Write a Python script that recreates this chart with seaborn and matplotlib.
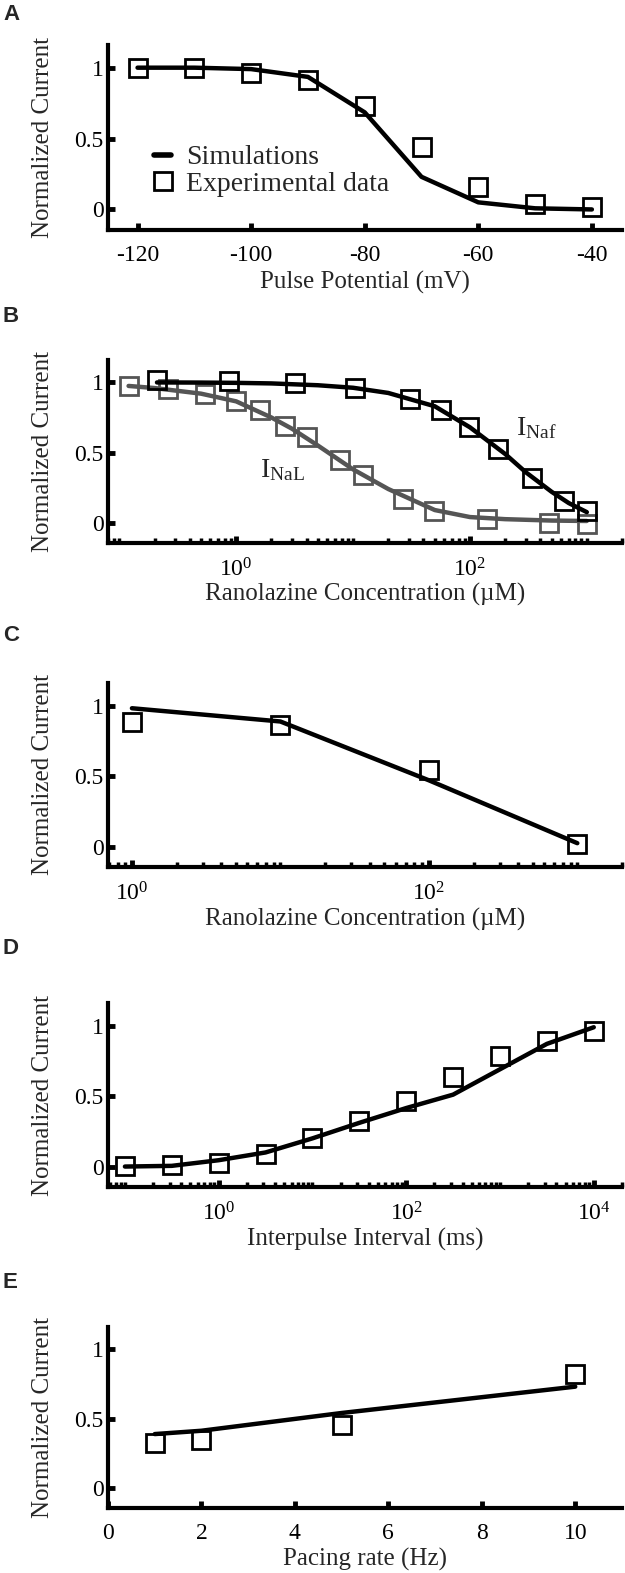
import numpy as np
import pandas as pd
import matplotlib
matplotlib.use("Agg")
import matplotlib.pyplot as plt
import seaborn as sns
from matplotlib.ticker import LogLocator, NullFormatter, FixedLocator
from matplotlib.lines import Line2D

# ---- data ----
# A: steady-state inactivation
a_volt = [-120, -110, -100, -90, -80, -70, -60, -50, -40]
a_sim = [1.0, 1.0, 0.99, 0.935, 0.685, 0.23, 0.05, 0.008, 0.0]
a_exp = [1.0, 0.998, 0.964, 0.91, 0.73, 0.44, 0.155, 0.04, 0.018]

# B: ranolazine block, INaf (black) and INaL (grey)
b_naf_conc = [0.21, 0.87, 3.2, 10.3, 31, 56, 98, 175, 340, 640, 1000]
b_naf_exp = [1.02, 1.012, 0.993, 0.957, 0.884, 0.807, 0.68, 0.523, 0.318, 0.157, 0.084]
b_naf_sim_conc = [0.21, 0.5, 1, 2, 5, 10, 20, 50, 100, 200, 300, 500, 700, 1000]
b_naf_sim = [1.0, 0.999, 0.997, 0.993, 0.98, 0.962, 0.925, 0.83, 0.68, 0.49, 0.36, 0.22, 0.14, 0.075]
b_nal_conc = [0.12, 0.26, 0.54, 1.0, 1.6, 2.6, 4.0, 7.7, 12.2, 27, 49, 140, 476, 1010]
b_nal_exp = [0.976, 0.952, 0.916, 0.867, 0.8, 0.687, 0.614, 0.446, 0.337, 0.169, 0.084, 0.024, 0.0, -0.012]
b_nal_sim_conc = [0.12, 0.2, 0.5, 1, 2, 3, 5, 10, 20, 50, 100, 200, 500, 1000]
b_nal_sim = [0.975, 0.96, 0.92, 0.865, 0.75, 0.67, 0.55, 0.38, 0.24, 0.09, 0.04, 0.025, 0.015, 0.012]

# C: ranolazine block
c_conc = [1, 10, 100, 1000]
c_exp = [0.882, 0.859, 0.541, 0.019]
c_sim = [0.981, 0.887, 0.47, 0.024]

# D: recovery from inactivation
d_interval = [0.1, 0.316, 1, 3.16, 10, 31.6, 100, 316, 1000, 3160, 10000]
d_exp = [0.005, 0.009, 0.023, 0.087, 0.204, 0.321, 0.462, 0.637, 0.782, 0.888, 0.958]
d_sim = [0.0, 0.005, 0.045, 0.10, 0.2, 0.31, 0.415, 0.51, 0.69, 0.87, 0.988]

# E: use dependence
e_rate = [1, 2, 5, 10]
e_exp = [0.326, 0.345, 0.457, 0.821]
e_sim = [0.388, 0.412, 0.54, 0.73]

GREY = "#555555"

sns.set_style("white")
plt.rcParams["font.family"] = ["Liberation Serif", "DejaVu Serif"]
plt.rcParams["mathtext.fontset"] = "custom"
plt.rcParams["mathtext.rm"] = "Liberation Serif"
plt.rcParams["mathtext.it"] = "Liberation Serif:italic"
plt.rcParams["axes.unicode_minus"] = False

W, H = 625, 1573
fig = plt.figure(figsize=(W / 100, H / 100), dpi=100)


def make_axes(top, bottom, left=108, right=622):
    return fig.add_axes([left / W, 1 - bottom / H, (right - left) / W, (bottom - top) / H])


def draw(ax, x, sim, exp, color="black"):
    sns.lineplot(x=x[0], y=sim, ax=ax, color=color, linewidth=3.2, errorbar=None)
    sns.lineplot(x=x[1], y=exp, ax=ax, linestyle="none", marker="s", markersize=13,
                 markerfacecolor="none", markeredgecolor=color, markeredgewidth=2,
                 errorbar=None)


def style(ax, xlabel, log=False):
    ax.set_ylim(-0.145, 1.16)
    ax.set_yticks([0, 0.5, 1])
    ax.set_yticklabels(["0", "0.5", "1"])
    sns.despine(ax=ax)
    for s in ["left", "bottom"]:
        ax.spines[s].set_linewidth(3)
        ax.spines[s].set_color("black")
    ax.tick_params(axis="both", which="both", bottom=True, left=True, top=False, right=False)
    ax.tick_params(axis="both", which="major", direction="in", length=5, width=3.5,
                   color="black", labelsize=17, labelcolor="black")
    ax.tick_params(axis="y", pad=3)
    ax.tick_params(axis="x", pad=11)
    if log:
        ax.xaxis.set_minor_locator(LogLocator(base=10, subs=np.arange(1, 10), numticks=60))
        ax.xaxis.set_minor_formatter(NullFormatter())
        ax.tick_params(axis="x", which="minor", direction="in", length=3.5, width=2.5,
                       color="black")
    ax.set_xlabel(xlabel, fontsize=18)
    ax.set_ylabel("Normalized Current", fontsize=18)
    ax.xaxis.set_label_coords(0.5, -0.22)
    ax.yaxis.set_label_coords(-0.105, 0.5)


def panel_label(letter, y):
    fig.text(3 / W, 1 - y / H, letter, fontsize=16, fontweight="bold",
             family="Liberation Sans", va="center", ha="left")


# ---- A ----
ax = make_axes(45, 230)
draw(ax, (a_volt, a_volt), a_sim, a_exp)
ax.set_xlim(-125.2, -34.7)
ax.set_xticks([-120, -100, -80, -60, -40])
style(ax, "Pulse Potential (mV)")
handles = [Line2D([], [], color="black", linewidth=4),
           Line2D([], [], linestyle="none", marker="s", markersize=13,
                  markerfacecolor="none", markeredgecolor="black", markeredgewidth=2)]
ax.legend(handles, ["Simulations", "Experimental data"], loc="upper left",
          bbox_to_anchor=(0.09, 0.46), frameon=False, fontsize=20,
          handlelength=0.6, handletextpad=0.55, labelspacing=0.05,
          borderaxespad=0, borderpad=0)
panel_label("A", 15)

# ---- B ----
ax = make_axes(360, 543)
ax.set_xscale("log")
draw(ax, (b_nal_sim_conc, b_nal_conc), b_nal_sim, b_nal_exp, color=GREY)
draw(ax, (b_naf_sim_conc, b_naf_conc), b_naf_sim, b_naf_exp)
ax.set_xlim(0.08, 2000)
ax.xaxis.set_major_locator(FixedLocator([1, 100]))
style(ax, "Ranolazine Concentration (\u00b5M)", log=True)
ax.text(1.61, 0.325, r"$\mathrm{I}_{\mathrm{NaL}}$", fontsize=20, ha="left", va="baseline")
ax.text(250, 0.626, r"$\mathrm{I}_{\mathrm{Naf}}$", fontsize=20, ha="left", va="baseline")
panel_label("B", 316)

# ---- C ----
ax = make_axes(683, 867)
ax.set_xscale("log")
draw(ax, (c_conc, c_conc), c_sim, c_exp)
ax.set_xlim(0.69, 2000)
ax.xaxis.set_major_locator(FixedLocator([1, 100]))
style(ax, "Ranolazine Concentration (\u00b5M)", log=True)
panel_label("C", 636)

# ---- D ----
ax = make_axes(1003, 1187)
ax.set_xscale("log")
draw(ax, (d_interval, d_interval), d_sim, d_exp)
ax.set_xlim(0.066, 20000)
ax.xaxis.set_major_locator(FixedLocator([1, 100, 10000]))
style(ax, "Interpulse Interval (ms)", log=True)
panel_label("D", 948)

# ---- E ----
ax = make_axes(1327, 1508)
draw(ax, (e_rate, e_rate), e_sim, e_exp)
ax.set_xlim(0, 11)
ax.set_xticks([0, 2, 4, 6, 8, 10])
style(ax, "Pacing rate (Hz)")
panel_label("E", 1283)

fig.savefig("out.png", dpi=100)
